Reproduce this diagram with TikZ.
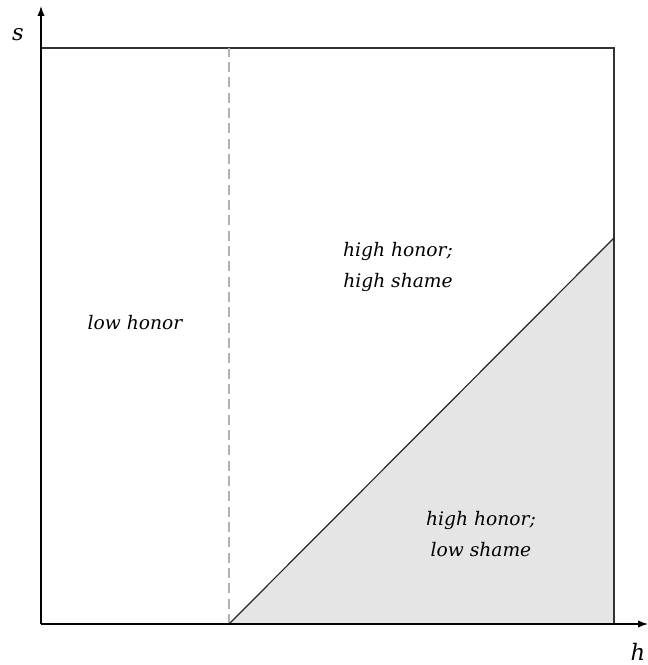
\documentclass[tikz,border=0pt]{standalone}
\usepackage{fontspec}
\setmainfont{DejaVu Serif}
\usetikzlibrary{calc,arrows.meta}

\begin{document}
\begin{tikzpicture}[>={Latex[length=7.5pt,width=5.5pt]}, x=0.75pt, y=0.75pt,
    region/.style={font=\fontsize{14}{23.5}\selectfont\itshape, align=center},
    axislabel/.style={font=\fontsize{17}{20}\selectfont\itshape}]
    \def\boxw{573}
    \def\boxh{576}
    \def\hcut{188}
    \def\diagtop{386}

    \useasboundingbox (-41,-41) rectangle (607,624);

    % shaded part under the diagonal
    \fill[gray!20] (\hcut,0) -- (\boxw,\diagtop) -- (\boxw,0) -- cycle;
    \draw[black!80, line width=0.9pt] (0,\boxh) -- (\boxw,\boxh) -- (\boxw,0);
    \draw[gray!60, line width=1.2pt, dash pattern=on 7.5pt off 4pt] (\hcut,0) -- (\hcut,\boxh);
    \draw[black!85, line width=0.9pt] (\hcut,0) -- (\boxw,\diagtop);

    % axes
    \draw[->, line width=1pt] (0,0) -- (607,0);
    \draw[->, line width=1pt] (0,0) -- (0,618);
    \node[axislabel] (s) at (-23,589) {s};
    \node[axislabel] (h) at (597,-28) {h};

    \node[region] (lowhon) at (94,301) {low honor};
    \node[region] (highhs) at (357,357) {high honor;\\ high shame};
    \node[region] (highls) at (440,90) {high honor;\\ low shame};
\end{tikzpicture}
\end{document}
